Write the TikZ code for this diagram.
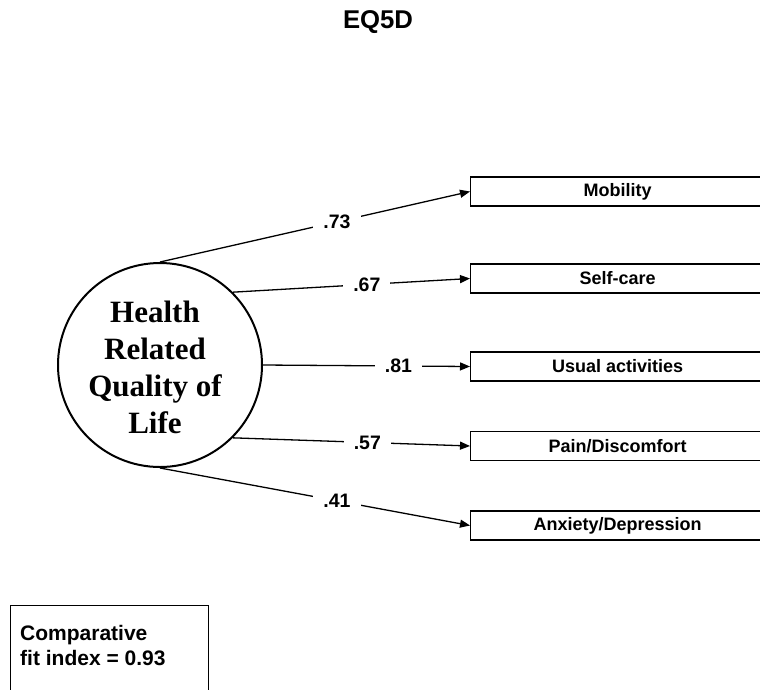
\documentclass[tikz,border=0pt]{standalone}
\usepackage{fontspec}
\setmainfont{Liberation Serif}
\setsansfont{Liberation Sans}
\usetikzlibrary{arrows.meta}
\begin{document}
\begin{tikzpicture}[x=1pt,y=-1pt,
  every node/.style={font=\sffamily\bfseries},
  latent/.style={circle, draw, line width=2pt, minimum size=204pt, inner sep=0pt,
    align=center, font=\rmfamily\bfseries\fontsize{31}{37}\selectfont},
  indicator/.style={draw, line width=1.3pt, anchor=west, minimum width=294pt,
    minimum height=29pt, inner sep=0pt, font=\sffamily\bfseries\fontsize{18}{20}\selectfont},
  loading/.style={fill=white, inner xsep=10pt, inner ysep=1pt,
    font=\sffamily\bfseries\fontsize{19.5}{21}\selectfont},
  path/.style={line width=1.3pt, -{Triangle[length=10pt,width=8pt]}},
  fitbox/.style={draw, line width=1.3pt, anchor=north west, minimum width=198pt,
    minimum height=110pt, inner sep=0pt}]
\useasboundingbox (0,0) rectangle (760,689);

% title
\node[font=\sffamily\bfseries\fontsize{25.7}{28}\selectfont] (title) at (378,22.5) {EQ5D};

% latent factor
\node[latent] (hrql) at (160,365) {};
\node[align=center, font=\rmfamily\bfseries\fontsize{31}{37}\selectfont] (hrqltext) at (155,367)
  {Health\\Related\\Quality of\\Life};

% observed indicators
\node[indicator] (mob) at (470,191.5) {\raisebox{-1pt}{Mobility}};
\node[indicator] (self) at (470,278.5) {\raisebox{-1pt}{Self-care}};
\node[indicator] (usual) at (470,366.5) {\raisebox{-1pt}{Usual activities}};
\node[indicator] (pain) at (470,446) {\raisebox{-1pt}{Pain/Discomfort}};
\node[indicator] (anx) at (470,525.5) {\raisebox{-1pt}{Anxiety/Depression}};

% factor loadings
\draw[path] (hrql.north) -- node[loading, pos=0.571] {.73} (mob.west);
\draw[path] (hrql.45) -- node[loading, pos=0.565] {.67} (self.west);
\draw[path] (hrql.east) -- node[loading, pos=0.654] {.81} (usual.west);
\draw[path] (hrql.-45) -- node[loading, pos=0.567] {.57} (pain.west);
\draw[path] (hrql.south) -- node[loading, pos=0.571] {.41} (anx.west);

% fit statistic
\node[fitbox] (cfi) at (10,605) {};
\node[anchor=north west, align=left, inner sep=0pt,
  font=\sffamily\bfseries\fontsize{21}{25}\selectfont] (cfitext) at (20,625)
  {Comparative\\fit index = 0.93};
\end{tikzpicture}
\end{document}
